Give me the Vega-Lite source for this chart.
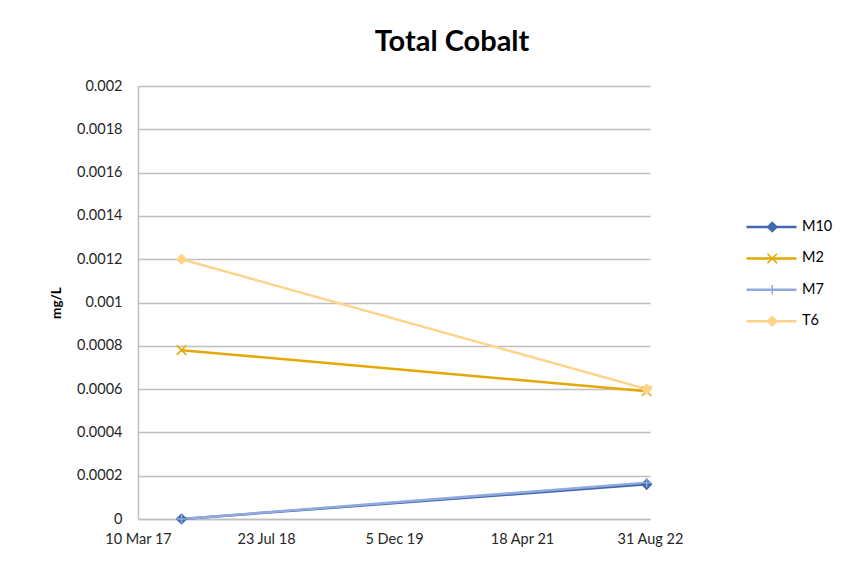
{
  "$schema": "https://vega.github.io/schema/vega-lite/v6.json",
  "width": 512,
  "height": 433,
  "autosize": "none",
  "padding": {"left": 138, "top": 86, "right": 212, "bottom": 48},
  "background": "white",
  "config": {"font": "Lato", "view": {"stroke": null}},
  "title": {"text": "Total Cobalt", "fontSize": 29, "fontWeight": "bold", "font": "Lato", "color": "#000000", "dx": 58, "offset": 21, "anchor": "middle", "frame": "group"},
  "data": {"values": [
    {"series": "M10", "date": "2017-08-27", "value": 0},
    {"series": "M10", "date": "2022-08-18", "value": 0.00016},
    {"series": "M2", "date": "2017-08-27", "value": 0.00078},
    {"series": "M2", "date": "2022-08-18", "value": 0.00059},
    {"series": "M7", "date": "2017-08-27", "value": 0},
    {"series": "M7", "date": "2022-08-18", "value": 0.000168},
    {"series": "T6", "date": "2017-08-27", "value": 0.0012},
    {"series": "T6", "date": "2022-08-18", "value": 0.0006}
  ]},
  "encoding": {
    "x": {"field": "date", "type": "temporal",
      "scale": {"type": "utc", "domain": [{"year": 2017, "month": 3, "date": 10, "utc": true}, {"year": 2022, "month": 8, "date": 31, "utc": true}]},
      "axis": {"title": null, "values": [
        {"year": 2017, "month": 3, "date": 10, "utc": true},
        {"year": 2018, "month": 7, "date": 23, "utc": true},
        {"year": 2019, "month": 12, "date": 5, "utc": true},
        {"year": 2021, "month": 4, "date": 18, "utc": true},
        {"year": 2022, "month": 8, "date": 31, "utc": true}],
        "format": "%-d %b %y", "labelFontSize": 14.5, "labelColor": "#262626", "labelPadding": 13,
        "labelFlush": false, "labelOverlap": false, "grid": false, "ticks": false,
        "domainColor": "#BFBFBF", "domainWidth": 1.5}},
    "y": {"field": "value", "type": "quantitative",
      "scale": {"domain": [0, 0.002], "nice": false},
      "axis": {"title": "mg/L", "titleFontSize": 13.5, "titleFontWeight": "bold", "titleColor": "#000000", "titlePadding": 13,
        "values": [0, 0.0002, 0.0004, 0.0006, 0.0008, 0.001, 0.0012, 0.0014, 0.0016, 0.0018, 0.002],
        "format": "~g", "labelFontSize": 14.5, "labelColor": "#262626", "labelPadding": 16, "ticks": false,
        "gridColor": "#BFBFBF", "gridWidth": 1.3, "domainColor": "#BFBFBF", "domainWidth": 1.5}}
  },
  "layer": [
    {"mark": {"type": "line", "strokeWidth": 2.5},
     "encoding": {
       "color": {"field": "series", "type": "nominal",
         "scale": {"domain": ["M10", "M2", "M7", "T6"], "range": ["#4468B0", "#E2AA00", "#8FAADC", "#FFD38A"]},
         "legend": {"title": null, "orient": "none", "legendX": 607, "legendY": 134, "padding": 0,
           "symbolType": "stroke", "symbolSize": 2500, "symbolStrokeWidth": 2.5, "clipHeight": 14,
           "rowPadding": 16.4, "labelFontSize": 14.5, "labelColor": "#000000", "labelOffset": 4}}
     }},
    {"mark": {"type": "point", "filled": false, "opacity": 1, "strokeWidth": 1.5, "size": 90},
     "encoding": {
       "stroke": {"field": "series", "type": "nominal", "scale": {"range": ["#4468B0", "#E2AA00", "#8FAADC", "#FFD38A"]},
         "legend": {"title": null, "orient": "none", "legendX": 627, "legendY": 134, "padding": 0, "symbolSize": 90, "clipHeight": 14, "rowPadding": 16.4, "labelFontSize": 14.5, "labelExpr": "''", "symbolStrokeWidth": 1.5, "symbolFillColor": "transparent", "symbolStrokeColor": "black", "symbolOpacity": 1}},
       "fill": {"field": "series", "type": "nominal", "scale": {"range": ["#4468B0", "#E2AA00", "#8FAADC", "#FFD38A"]},
         "legend": {"title": null, "orient": "none", "legendX": 627, "legendY": 134, "padding": 0, "symbolSize": 90, "clipHeight": 14, "rowPadding": 16.4, "labelFontSize": 14.5, "labelExpr": "''", "symbolStrokeWidth": 1.5, "symbolFillColor": "transparent", "symbolStrokeColor": "black", "symbolOpacity": 1}},
       "shape": {"field": "series", "type": "nominal",
         "scale": {"range": ["diamond", "M-1,-1L1,1M-1,1L1,-1", "M-1,0L1,0M0,-1L0,1", "diamond"]},
         "legend": {"title": null, "orient": "none", "legendX": 627, "legendY": 134, "padding": 0, "symbolSize": 90, "clipHeight": 14, "rowPadding": 16.4, "labelFontSize": 14.5, "labelExpr": "''", "symbolStrokeWidth": 1.5, "symbolFillColor": "transparent", "symbolStrokeColor": "black", "symbolOpacity": 1}}
     }}
  ]
}
